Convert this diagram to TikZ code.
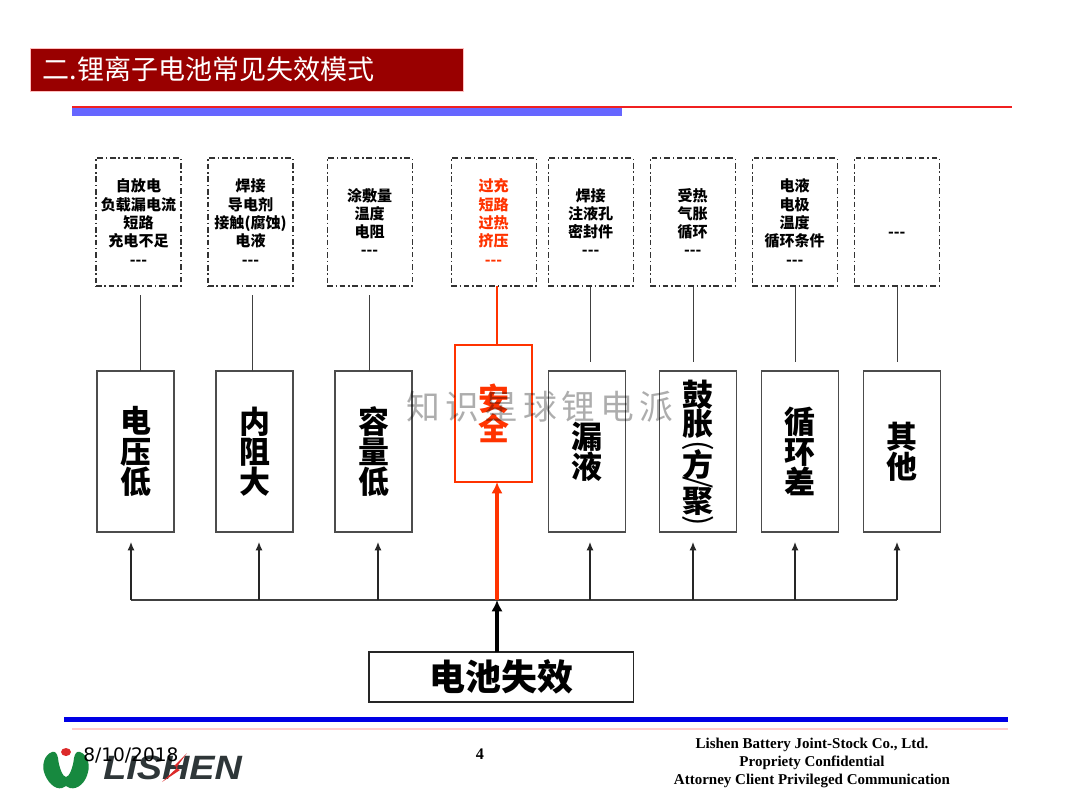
\documentclass[tikz,border=0pt]{standalone}
\usepackage{fontspec}
\usepackage{xcolor}
\usepackage{graphicx}
\usetikzlibrary{arrows.meta,positioning,calc}
\newfontfamily\cjk{Noto Sans CJK SC}
\newfontfamily\markfont[LetterSpace=15]{Noto Sans CJK SC}
\newfontfamily\latin{Liberation Serif}
\newfontfamily\logofont{Liberation Sans}
\newfontfamily\datefont{DejaVu Sans}
\definecolor{titlered}{HTML}{990000}
\definecolor{barblue}{HTML}{6666FF}
\definecolor{ruled}{HTML}{F02020}
\definecolor{alert}{HTML}{FF3300}
\definecolor{logogreen}{HTML}{17893F}
\definecolor{logored}{HTML}{DC2A2A}
\definecolor{logogray}{HTML}{2E3638}
\newcommand{\turned}[1]{\smash{\rotatebox[origin=c]{-90}{\mdseries #1}}}

\begin{document}
\begin{tikzpicture}[
    x=0.025cm, y=-0.025cm,
    font=\cjk\bfseries,
    notebox/.style={draw=black!80, line width=0.8pt, dash pattern=on 4pt off 2pt on 1pt off 2pt,
      minimum width=2.125cm, minimum height=3.2cm, outer sep=0pt, align=center,
      font=\fontsize{10.7}{13}\cjk\bfseries},
    modebox/.style={draw=black!70, line width=0.85pt, minimum width=1.925cm, minimum height=4.025cm,
      outer sep=0pt, align=center, font=\fontsize{22}{21.5}\cjk\bfseries},
    link/.style={draw=black!75, line width=0.7pt},
    alertlink/.style={draw=alert, line width=0.8pt},
    arr/.style={-{Latex[length=6pt,width=5pt]}, black!85, line width=0.8pt},
    bigarr/.style={-{Latex[length=8pt,width=8pt]}, line width=2.8pt},
    footer/.style={font=\fontsize{10.66}{12}\latin\bfseries},
  ]
    \useasboundingbox (0,0) rectangle (1080,810);

    % header
    \node[fill=titlered, draw=red!25, line width=0.4pt, anchor=north west, minimum width=10.825cm,
      minimum height=1.075cm, outer sep=0pt] (titlebar) at (30,48) {};
    \node[anchor=west, text=white, font=\fontsize{19.2}{22}\cjk] (title) at (38,69) {二.锂离子电池常见失效模式};
    \fill[barblue] (72,108) rectangle (622,116);
    \draw[ruled, line width=0.8pt] (72,107) -- (1012,107);

    % failure causes
    \node[notebox, anchor=north west] (noteA) at (96,158)
      {自放电\\负载漏电流\\短路\\充电不足\\---};
    \node[notebox, right=0.675cm of noteA] (noteB)
      {焊接\\导电剂\\接触(腐蚀)\\电液\\---};
    \node[notebox, right=0.85cm of noteB] (noteC)
      {涂敷量\\温度\\电阻\\---};
    \node[notebox, right=0.975cm of noteC, text=alert] (noteD)
      {过充\\短路\\过热\\挤压\\---};
    \node[notebox, right=0.3cm of noteD] (noteE)
      {焊接\\注液孔\\密封件\\---};
    \node[notebox, right=0.425cm of noteE] (noteF)
      {受热\\气胀\\循环\\---};
    \node[notebox, right=0.425cm of noteF] (noteG)
      {电液\\电极\\温度\\循环条件\\---};
    \node[notebox, right=0.425cm of noteG] (noteH)
      {\strut\\---};

    % failure modes
    \node[modebox, anchor=north west] (volt) at (97,371) {电\\压\\低};
    \node[modebox, right=1.05cm of volt] (resist) {内\\阻\\大};
    \node[modebox, right=1.05cm of resist] (capac) {容\\量\\低};
    \node[modebox, draw=alert, text=alert, anchor=north west, minimum height=3.425cm] (safe) at (455,345) {安\\全};
    \node[modebox, right=3.4cm of capac] (leak) {漏\\液};
    \node[modebox, right=0.85cm of leak, inner sep=0pt] (swell)
      {\rule{0pt}{24pt}鼓\\[-1pt]胀\\[-7pt]\turned{(}\\[-7pt]方\\[-10pt]\turned{/}\\[-7pt]聚\\[-9pt]\turned{)}};
    \node[modebox, right=0.625cm of swell] (cycle) {循\\环\\差};
    \node[modebox, right=0.625cm of cycle] (other) {其\\他};

    % cause to mode links
    \coordinate (linkA) at (140,295);
    \coordinate (linkB) at (252,295);
    \coordinate (linkC) at (369,295);
    \coordinate (linkD) at (497,286);
    \coordinate (linkE) at (590,287);
    \coordinate (linkF) at (693,287);
    \coordinate (linkG) at (795,287);
    \coordinate (linkH) at (897,287);
    \coordinate (endE) at (590,362);
    \coordinate (endF) at (693,362);
    \coordinate (endG) at (795,362);
    \coordinate (endH) at (897,362);
    \draw[link] (linkA) -- (linkA |- volt.north);
    \draw[link] (linkB) -- (linkB |- resist.north);
    \draw[link] (linkC) -- (linkC |- capac.north);
    \draw[alertlink] (linkD) -- (linkD |- safe.north);
    \draw[link] (linkE) -- (endE);
    \draw[link] (linkF) -- (endF);
    \draw[link] (linkG) -- (endG);
    \draw[link] (linkH) -- (endH);

    % battery failure and feed lines
    \node[draw=black!85, line width=0.8pt, minimum width=6.6cm, minimum height=1.25cm, outer sep=0pt,
      anchor=north west, font=\fontsize{25.6}{28}\cjk\bfseries] (fail) at (369,652) {电池失效};
    \coordinate (hub) at (497,600);
    \coordinate (busL) at (131,600);
    \coordinate (busR) at (897,600);
    \coordinate (tipA) at (131,542);
    \coordinate (tipB) at (259,542);
    \coordinate (tipC) at (378,542);
    \coordinate (tipE) at (590,542);
    \coordinate (tipF) at (693,542);
    \coordinate (tipG) at (795,542);
    \coordinate (tipH) at (897,542);
    \draw[link, line width=0.8pt] (busL) -- (busR);
    \draw[arr] (busL) -- (tipA);
    \draw[arr] (tipB |- hub) -- (tipB);
    \draw[arr] (tipC |- hub) -- (tipC);
    \draw[arr] (tipE |- hub) -- (tipE);
    \draw[arr] (tipF |- hub) -- (tipF);
    \draw[arr] (tipG |- hub) -- (tipG);
    \draw[arr] (busR) -- (tipH);
    \draw[bigarr, alert] (hub) -- (hub |- safe.south);
    \draw[bigarr, black] (hub |- fail.north) -- (hub);

    % watermark
    \node[text=black, opacity=0.32, font=\fontsize{24}{26}\markfont] (mark) at (540,407) {知识星球锂电派};

    % footer
    \fill[blue!90!black] (64,717) rectangle (1008,722);
    \fill[red!20] (72,728) rectangle (1008,730);
    \fill[logogreen] (52,752) .. controls (44,755) and (42,765) .. (44,772)
      .. controls (47,782) and (55,790) .. (62,788) -- (66,786) -- (70,788)
      .. controls (78,790) and (86,782) .. (88,772) .. controls (90,765) and (88,755) .. (80,752)
      .. controls (77,751) and (75,753) .. (74,758) .. controls (73,768) and (69,777) .. (66,777)
      .. controls (63,777) and (59,768) .. (58,758) .. controls (57,753) and (55,751) .. (52,752) -- cycle;
    \fill[logored] (66,752) ellipse (5 and 4);
    \node[anchor=west, inner sep=0pt, xscale=1.12, transform shape, text=logogray,
      font=\fontsize{24}{26}\logofont\bfseries\itshape] (logotext) at (103,768) {LISHEN};
    \fill[logored] (187,753) -- (174,766) -- (178,767) -- (162,782) -- (180,770) -- (176,768) -- cycle;
    \node[anchor=west, inner sep=0pt, font=\fontsize{13.2}{15}\datefont] (date) at (83,755) {8/10/2018};
    \node[font=\fontsize{11.5}{13}\latin\bfseries] (page) at (480,754) {4};
    \node[footer] (firm) at (812,745) {Lishen Battery Joint-Stock Co., Ltd.};
    \node[footer] (conf) at (812,763) {Propriety Confidential};
    \node[footer] (priv) at (812,781) {Attorney Client Privileged Communication};
  \end{tikzpicture}
\end{document}
